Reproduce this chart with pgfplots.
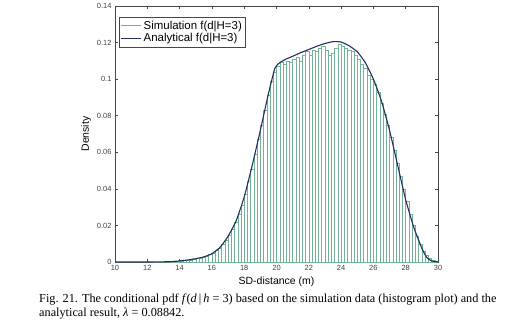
\documentclass[border=0pt]{standalone}
\usepackage{pgfplots}
\pgfplotsset{compat=1.18}
\usepackage{fontspec}
\setmainfont{Liberation Sans}
\newfontfamily\capfont{Liberation Serif}
\definecolor{simgreen}{RGB}{115,180,150}
\definecolor{simleg}{RGB}{150,160,155}
\definecolor{anavy}{RGB}{35,45,95}
\definecolor{axgray}{RGB}{70,70,70}
\begin{document}
\begin{tikzpicture}
\begin{axis}[
  scale only axis,
  width=323bp, height=256bp,
  xmin=10, xmax=30, ymin=0, ymax=0.14,
  xtick={10,12,...,30},
  ytick={0,0.02,0.04,0.06,0.08,0.1,0.12,0.14},
  scaled y ticks=false,
  yticklabel style={/pgf/number format/fixed, /pgf/number format/precision=2},
  /pgf/number format/assume math mode=true,
  tick align=inside,
  major tick length=3bp,
  axis line style={axgray, line width=0.6pt},
  every tick/.style={axgray, line width=0.5pt},
  tick label style={font=\fontsize{7.5}{8}\selectfont, text=black!75},
  xlabel={SD-distance (m)},
  ylabel={Density},
  label style={font=\fontsize{10.5}{12}\selectfont},
  xlabel style={yshift=1bp},
  ylabel style={yshift=-1bp},
  legend image code/.code={\draw[#1] (0bp,0bp) -- (20bp,0bp);},
  legend style={at={(0.012,0.957)}, anchor=north west, draw=axgray, line width=0.5pt,
    font=\fontsize{11.5}{13}\selectfont, inner sep=1.5pt, row sep=-1pt},
  legend cell align=left,
]
\addplot[ybar, bar width=0.2, draw=simgreen, fill=white, line width=0.45pt, forget plot] table {
x y
10.1 0
10.3 0
10.5 0
10.7 0
10.9 0
11.1 0
11.3 0
11.5 0
11.7 0
11.9 0
12.1 0
12.3 0
12.5 0
12.7 0
12.9 0
13.1 0
13.3 0.0001
13.5 0.0001
13.7 0.0002
13.9 0.0003
14.1 0.0005
14.3 0.0007
14.5 0.0009
14.7 0.0012
14.9 0.0015
15.1 0.0019
15.3 0.0023
15.5 0.0028
15.7 0.0034
15.9 0.0042
16.1 0.0050
16.3 0.0062
16.5 0.0077
16.7 0.0095
16.9 0.0120
17.1 0.0148
17.3 0.0180
17.5 0.0218
17.7 0.0260
17.9 0.0310
18.1 0.0370
18.3 0.0440
18.5 0.0510
18.7 0.0590
18.9 0.0670
19.1 0.0750
19.3 0.0830
19.5 0.0910
19.7 0.0990
19.9 0.1040
20.1 0.1070
20.3 0.1090
20.5 0.1080
20.7 0.1100
20.9 0.1090
21.1 0.1110
21.3 0.1120
21.5 0.1100
21.7 0.1130
21.9 0.1150
22.1 0.1130
22.3 0.1160
22.5 0.1150
22.7 0.1170
22.9 0.1180
23.1 0.1160
23.3 0.1130
23.5 0.1140
23.7 0.1170
23.9 0.1190
24.1 0.1180
24.3 0.1170
24.5 0.1160
24.7 0.1150
24.9 0.1130
25.1 0.1110
25.3 0.1080
25.5 0.1060
25.7 0.1020
25.9 0.1000
26.1 0.0970
26.3 0.0930
26.5 0.0870
26.7 0.0810
26.9 0.0750
27.1 0.0680
27.3 0.0610
27.5 0.0540
27.7 0.0470
27.9 0.0400
28.1 0.0330
28.3 0.0260
28.5 0.0200
28.7 0.0140
28.9 0.0095
29.1 0.0060
29.3 0.0035
29.5 0.0018
29.7 0.0008
29.9 0.0002
};
\addlegendimage{simleg, line width=0.6pt}
\addlegendentry{Simulation f(d|H=3)}
\addplot[anavy, line width=1.1pt, smooth, tension=0.3] table {
x y
10 0
12 0
13 0.0001
13.5 0.0002
14 0.0006
14.5 0.0011
15 0.0018
15.5 0.0028
16 0.0045
16.5 0.0080
17 0.0140
17.5 0.0225
18 0.0355
18.5 0.0530
19 0.0720
19.5 0.0920
19.9 0.1060
20.2 0.1090
20.6 0.1110
21 0.1125
21.5 0.1145
22 0.1162
22.5 0.1180
23 0.1195
23.5 0.1205
24 0.1203
24.5 0.1182
25 0.1150
25.5 0.1090
26 0.1000
26.5 0.0880
27 0.0720
27.5 0.0530
28 0.0340
28.5 0.0190
29 0.0075
29.3 0.0025
29.6 0.0006
30 0
};
\addlegendentry{Analytical f(d|H=3)}
\end{axis}
\useasboundingbox (-115bp,-61bp) rectangle (401bp,262bp);
\node[anchor=base west, inner sep=0pt, font=\capfont\fontsize{12.3}{14}\selectfont] at (-76bp,-40bp)
  {Fig. 21. The conditional pdf \textit{f}(\textit{d}\,|\,\textit{h} = 3) based on the simulation data (histogram plot) and the};
\node[anchor=base west, inner sep=0pt, font=\capfont\fontsize{12.3}{14}\selectfont] at (-76bp,-54bp)
  {analytical result, \textit{λ} = 0.08842.};
\end{tikzpicture}
\end{document}
